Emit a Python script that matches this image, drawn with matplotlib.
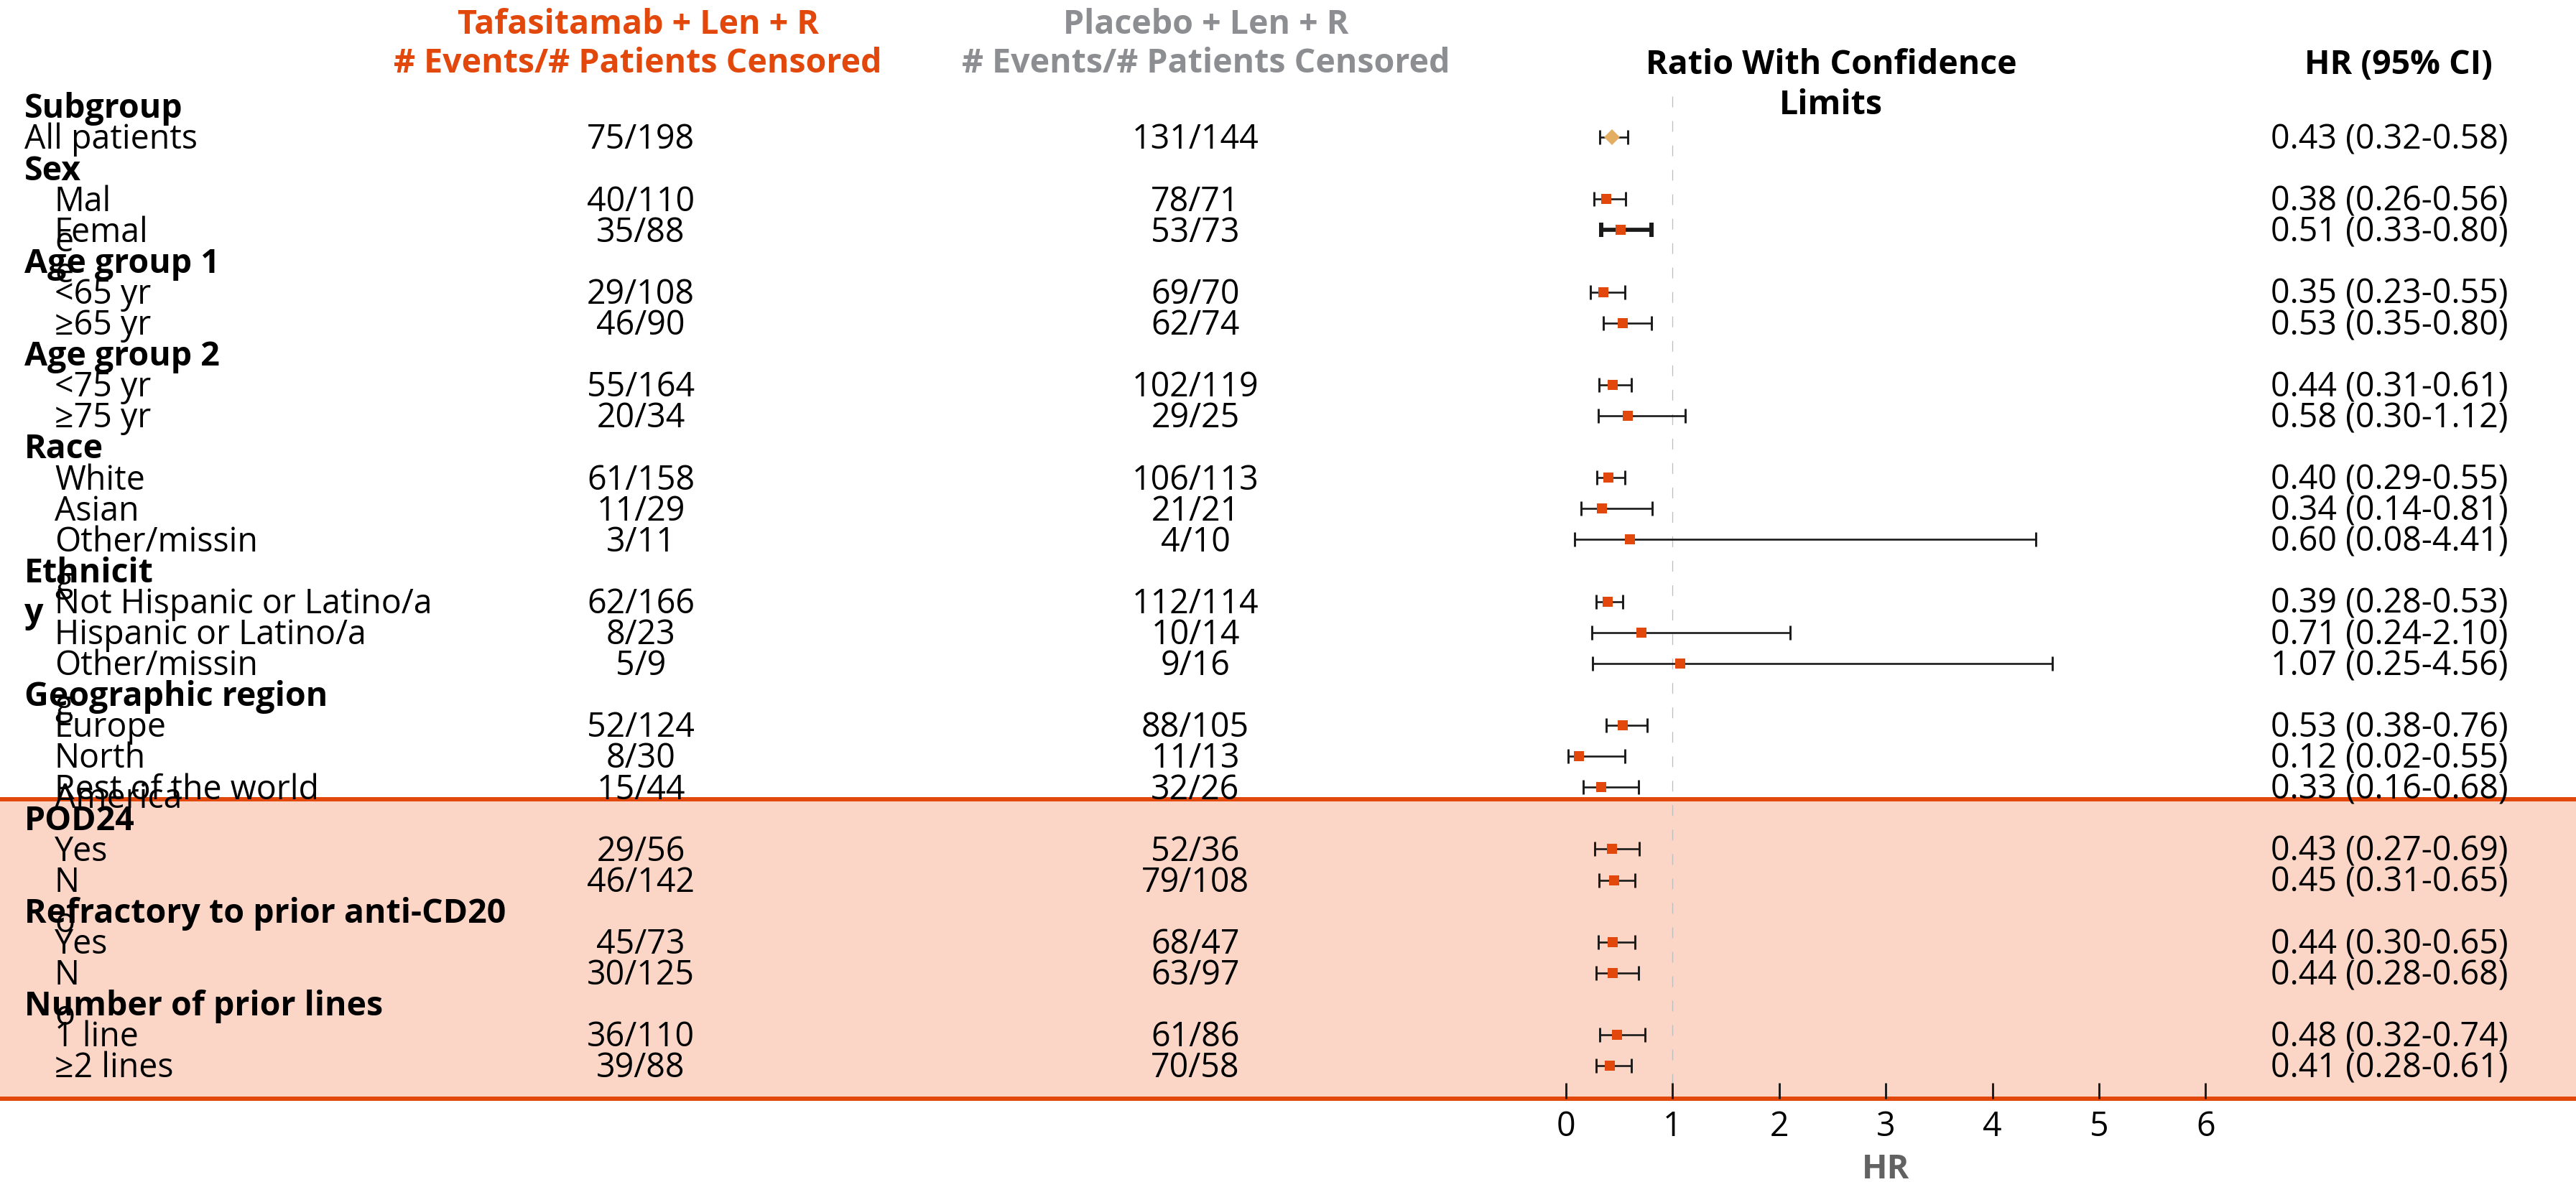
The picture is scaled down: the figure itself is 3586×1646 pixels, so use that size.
import numpy as np
import matplotlib
matplotlib.use("Agg")
import matplotlib.pyplot as plt
from matplotlib import transforms

plt.rcParams['font.family'] = ['Open Sans', 'DejaVu Sans']
plt.rcParams['lines.scale_dashes'] = False

# subgroup table, top to bottom (labels wrap exactly as printed)
labels = ["Subgroup", "All patients", "Sex", "Mal\ne", "Femal\ne",
          "Age group 1", "<65 yr", "≥65 yr", "Age group 2", "<75 yr", "≥75 yr",
          "Race", "White", "Asian", "Other/missin\ng",
          "Ethnicit\ny", "Not Hispanic or Latino/a", "Hispanic or Latino/a", "Other/missin\ng",
          "Geographic region", "Europe", "North\nAmerica", "Rest of the world",
          "POD24", "Yes", "N\no",
          "Refractory to prior anti-CD20", "Yes", "N\no",
          "Number of prior lines", "1 line", "≥2 lines"]
is_group = [True, False, True, False, False,
            True, False, False, True, False, False,
            True, False, False, False,
            True, False, False, False,
            True, False, False, False,
            True, False, False,
            True, False, False,
            True, False, False]
tafa_counts = ["", "75/198", "", "40/110", "35/88",
               "", "29/108", "46/90", "", "55/164", "20/34",
               "", "61/158", "11/29", "3/11",
               "", "62/166", "8/23", "5/9",
               "", "52/124", "8/30", "15/44",
               "", "29/56", "46/142",
               "", "45/73", "30/125",
               "", "36/110", "39/88"]
placebo_counts = ["", "131/144", "", "78/71", "53/73",
                  "", "69/70", "62/74", "", "102/119", "29/25",
                  "", "106/113", "21/21", "4/10",
                  "", "112/114", "10/14", "9/16",
                  "", "88/105", "11/13", "32/26",
                  "", "52/36", "79/108",
                  "", "68/47", "63/97",
                  "", "61/86", "70/58"]
hr = [None, 0.43, None, 0.38, 0.51,
      None, 0.35, 0.53, None, 0.44, 0.58,
      None, 0.40, 0.34, 0.60,
      None, 0.39, 0.71, 1.07,
      None, 0.53, 0.12, 0.33,
      None, 0.43, 0.45,
      None, 0.44, 0.44,
      None, 0.48, 0.41]
hr_lo = [None, 0.32, None, 0.26, 0.33,
         None, 0.23, 0.35, None, 0.31, 0.30,
         None, 0.29, 0.14, 0.08,
         None, 0.28, 0.24, 0.25,
         None, 0.38, 0.02, 0.16,
         None, 0.27, 0.31,
         None, 0.30, 0.28,
         None, 0.32, 0.28]
hr_hi = [None, 0.58, None, 0.56, 0.80,
         None, 0.55, 0.80, None, 0.61, 1.12,
         None, 0.55, 0.81, 4.41,
         None, 0.53, 2.10, 4.56,
         None, 0.76, 0.55, 0.68,
         None, 0.69, 0.65,
         None, 0.65, 0.68,
         None, 0.74, 0.61]
x_ticks = [0, 1, 2, 3, 4, 5, 6]
shaded_from = "POD24"
col_heads = [("Tafasitamab + Len + R\n# Events/# Patients Censored", "#E2470B"),
             ("Placebo + Len + R\n# Events/# Patients Censored", "#8D8E92")]

ORANGE = "#E2470B"
BAND = "#FBD6C7"
FS = 33.5

W, H = 3587, 1646
fig = plt.figure(figsize=(W / 100, H / 100), dpi=100)

# one axes spanning the full width; HR scale lives in data x, rows in data y
ax_bottom, ax_top = 1530, 134
ax = fig.add_axes([0, (H - ax_bottom) / H, 1, (ax_bottom - ax_top) / H])
row0_px, row_px = 148, 43.1
x0_px, unit_px = 2180, 148.4
ax.set_xlim(-x0_px / unit_px, (W - x0_px) / unit_px)
ax.set_ylim((ax_bottom - row0_px) / row_px, (ax_top - row0_px) / row_px)
for s in ax.spines.values():
    s.set_visible(False)
ax.set_yticks([])
ax.set_xticks(x_ticks)
ax.tick_params(axis='x', direction='in', length=16, width=2.1,
               labelsize=FS, pad=11, color='#1a1a1a')

rows = np.arange(len(labels))
ybot = ax.get_ylim()[0]

# shaded block for the last three subgroups
band_top = labels.index(shaded_from) - 0.61
ax.axhspan(band_top, ybot, color=BAND, lw=0, zorder=0)
ax.axhline(band_top, color=ORANGE, lw=4.3, zorder=1, clip_on=False)
ax.axhline(ybot, color=ORANGE, lw=4.3, zorder=1, clip_on=False)

# reference line at HR = 1
ax.axvline(1, ymin=1, ymax=0, color='#BDBDBD', lw=0.9, dashes=(10.8, 13.7), zorder=1)

for i in rows:
    if hr[i] is None:
        continue
    thick = labels[i].startswith("Femal")
    ax.errorbar(hr[i], i, xerr=[[hr[i] - hr_lo[i]], [hr_hi[i] - hr[i]]], fmt='none',
                ecolor='#1a1a1a', elinewidth=4.1 if thick else 1.9,
                capsize=7.2, capthick=4.3 if thick else 2.1, zorder=3)
    if labels[i] == "All patients":
        ax.plot(hr[i], i, marker='D', ms=10.7, color='#E3AD62', mew=0, zorder=4)
    else:
        ax.plot(hr[i], i, marker='s', ms=10.4, color=ORANGE, mew=0, zorder=4)

# text columns: x in axes fraction, y in rows
tr = transforms.blended_transform_factory(ax.transAxes, ax.transData)
base = 0.38        # baseline sits half a cap height below the row centre
gap = 56 / row_px  # distance between wrapped lines


def put(x_px, y, s, **kw):
    # multi-line cell: each line hangs below the first one
    for k, line in enumerate(s.split("\n")):
        ax.text(x_px / W, y + k * gap, line, transform=tr, fontsize=FS,
                va='baseline', clip_on=False, **kw)


for i in rows:
    xl = 34 if (is_group[i] or labels[i] == "All patients") else 76
    put(xl, i + base, labels[i], ha='left',
        fontweight='bold' if is_group[i] else 'normal')
    if tafa_counts[i]:
        put(892, i + base, tafa_counts[i], ha='center')
    if placebo_counts[i]:
        put(1664, i + base, placebo_counts[i], ha='center')
    if hr[i] is not None:
        put(3326, i + base, f"{hr[i]:.2f} ({hr_lo[i]:.2f}-{hr_hi[i]:.2f})", ha='center')

# column headings
head1 = (47 - row0_px) / row_px
head2 = (103 - row0_px) / row_px
for (txt, col), xc in zip(col_heads, [888, 1679]):
    for k, line in enumerate(txt.split("\n")):
        ax.text(xc / W, head1 + k * 54 / row_px, line, transform=tr, fontsize=FS,
                fontweight='bold', color=col, ha='center', va='baseline', clip_on=False)
put(2549, head2, "Ratio With Confidence\nLimits", ha='center', fontweight='bold')
put(3339, head2, "HR (95% CI)", ha='center', fontweight='bold')

xlo, xhi = ax.get_xlim()
ax.set_xlabel("HR", fontsize=FS, fontweight='bold', color='#626262', labelpad=9,
              x=(3 - xlo) / (xhi - xlo))

fig.savefig("out.png", dpi=100)
